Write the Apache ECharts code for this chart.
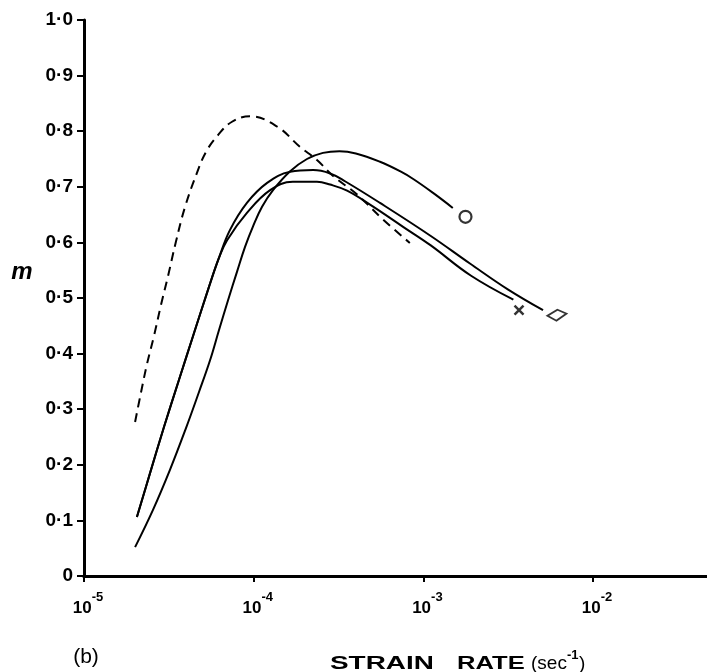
<!DOCTYPE html>
<html><head><meta charset="utf-8">
<script src="https://cdn.jsdelivr.net/npm/echarts/dist/echarts.min.js"></script>
<style>html,body{margin:0;padding:0;background:#fff;overflow:hidden}#c{width:707px;height:672px}</style>
</head><body><div id="c"></div>
<script>
// strain rate (sec^-1), m
const dashedCurve = [[2.00e-5,0.277],[2.17e-5,0.331],[2.35e-5,0.381],[2.59e-5,0.433],[2.84e-5,0.487],[3.13e-5,0.54],[3.48e-5,0.601],[3.94e-5,0.664],[4.63e-5,0.725],[5.24e-5,0.763],[6.16e-5,0.793],[7.45e-5,0.817],[9.51e-5,0.827],[1.38e-4,0.808],[1.87e-4,0.772],[2.36e-4,0.748],[2.95e-4,0.719],[4.07e-4,0.686],[5.75e-4,0.642],[8.32e-4,0.599]];
const sharedRise = [[2.05e-5,0.106],[2.45e-5,0.185],[2.96e-5,0.268],[3.63e-5,0.353],[4.45e-5,0.437],[5.45e-5,0.520],[6.24e-5,0.572]];
const curveATail = [[7.24e-5,0.622],[9.12e-5,0.671],[1.20e-4,0.707],[1.64e-4,0.727],[2.24e-4,0.730],[2.82e-4,0.724],[3.45e-4,0.710],[5.55e-4,0.671],[1.10e-3,0.612],[1.88e-3,0.562],[3.16e-3,0.515],[5.07e-3,0.478]];
const curveBTail = [[6.97e-5,0.604],[9.12e-5,0.653],[1.25e-4,0.694],[1.70e-4,0.709],[2.36e-4,0.709],[2.82e-4,0.704],[3.55e-4,0.693],[4.90e-4,0.667],[7.59e-4,0.628],[1.10e-3,0.595],[1.91e-3,0.54],[3.39e-3,0.497]];
const curveC = [[2.00e-5,0.052],[2.55e-5,0.119],[3.21e-5,0.191],[3.99e-5,0.266],[4.76e-5,0.331],[5.53e-5,0.388],[6.24e-5,0.442],[7.06e-5,0.496],[7.97e-5,0.547],[8.89e-5,0.592],[9.91e-5,0.629],[1.12e-4,0.664],[1.30e-4,0.694],[1.64e-4,0.728],[2.06e-4,0.750],[2.56e-4,0.761],[3.20e-4,0.764],[4.00e-4,0.760],[5.55e-4,0.745],[7.28e-4,0.728],[8.71e-4,0.714],[1.14e-3,0.689],[1.49e-3,0.662]];
const markerO = [[1.77e-3,0.646]];
const markerX = [[3.66e-3,0.478]];
const markerD = [[6.12e-3,0.469]];
const xMin = 1e-5, xMax = 0.0469;
const yMin = 0, yMax = 1, yStep = 0.1;

const FF = '"Liberation Sans", Arial, sans-serif';
const chart = echarts.init(document.getElementById('c'), null, {renderer:'canvas'});
const lineBase = {type:'line', showSymbol:false, symbol:'none', smooth:0.4, silent:true, lineStyle:{color:'#000', width:2}};
chart.setOption({
  animation:false,
  backgroundColor:'#fff',
  grid:{left:84, right:0, top:20, bottom:96, containLabel:false, outerBoundsMode:'none'},
  xAxis:[{
    type:'log', logBase:10, min:xMin, max:xMax,
    axisLine:{show:true, onZero:false, lineStyle:{color:'#000', width:3}},
    axisTick:{show:true, length:6, lineStyle:{color:'#000', width:2}},
    splitLine:{show:false}, minorTick:{show:false},
    axisLabel:{
      margin:15, color:'#000', showMaxLabel:false, hideOverlap:false, padding:[0,0,0,8],
      formatter:function(v){ const e=Math.round(Math.log10(v)); return '{b|10}{s|'+e+'}'; },
      rich:{
        b:{fontSize:17, fontWeight:'bold', fontFamily:FF, color:'#000', verticalAlign:'bottom', lineHeight:26},
        s:{fontSize:13, fontWeight:'bold', fontFamily:FF, color:'#000', verticalAlign:'top', lineHeight:26}
      }
    }
  },{
    type:'value', position:'top', min:0, max:1, gridIndex:0,
    axisLine:{show:true, lineStyle:{color:'#000', width:3}},
    axisTick:{show:false}, axisLabel:{show:false}, splitLine:{show:false}
  }],
  yAxis:{
    type:'value', min:yMin, max:yMax, interval:yStep,
    axisLine:{show:true, lineStyle:{color:'#000', width:3}},
    axisTick:{show:true, length:7, lineStyle:{color:'#000', width:2}},
    splitLine:{show:false},
    axisLabel:{
      margin:11, color:'#000', fontSize:19, fontWeight:'bold', fontFamily:FF,
      formatter:function(v){ return v===0 ? '0' : v.toFixed(1).replace('.', '\u00b7'); }
    }
  },
  series:[
    Object.assign({}, lineBase, {data:dashedCurve, lineStyle:{color:'#000', width:2, type:[9,6]}}),
    Object.assign({}, lineBase, {data:sharedRise.concat(curveATail)}),
    Object.assign({}, lineBase, {data:sharedRise.concat(curveBTail)}),
    Object.assign({}, lineBase, {data:curveC}),
    {type:'scatter', data:markerO, symbol:'circle', symbolSize:12, silent:true,
     itemStyle:{color:'#fff', borderColor:'#000', borderWidth:2.2}},
    {type:'scatter', data:markerX, symbol:'path://M0,0L10,10M10,0L0,10', symbolSize:9, silent:true,
     itemStyle:{color:'none', borderColor:'#000', borderWidth:2.5}},
    {type:'scatter', data:markerD, symbol:'path://M0,6L10,0L19,4L9,11Z', symbolSize:[19,11], silent:true,
     itemStyle:{color:'#fff', borderColor:'#000', borderWidth:2}}
  ],
  graphic:[
    {type:'text', x:22, y:272, silent:true,
     style:{text:'m', font:'italic bold 24px '+FF, fill:'#000', align:'center', verticalAlign:'middle'}},
    {type:'text', x:86, y:657, silent:true,
     style:{text:'(b)', font:'21px '+FF, fill:'#000', align:'center', verticalAlign:'middle'}},
    {type:'text', x:330, y:664, scaleX:1.55, silent:true,
     style:{text:'STRAIN', font:'bold 18px '+FF, fill:'#000', align:'left', verticalAlign:'middle'}},
    {type:'text', x:457, y:664, scaleX:1.42, silent:true,
     style:{text:'RATE', font:'bold 18px '+FF, fill:'#000', align:'left', verticalAlign:'middle'}},
    {type:'text', x:531, y:664, silent:true,
     style:{text:'(sec', font:'19px '+FF, fill:'#000', align:'left', verticalAlign:'middle'}},
    {type:'text', x:567, y:655, silent:true,
     style:{text:'-1', font:'bold 13px '+FF, fill:'#000', align:'left', verticalAlign:'middle'}},
    {type:'text', x:579, y:664, silent:true,
     style:{text:')', font:'19px '+FF, fill:'#000', align:'left', verticalAlign:'middle'}}
  ]
});
</script></body></html>
